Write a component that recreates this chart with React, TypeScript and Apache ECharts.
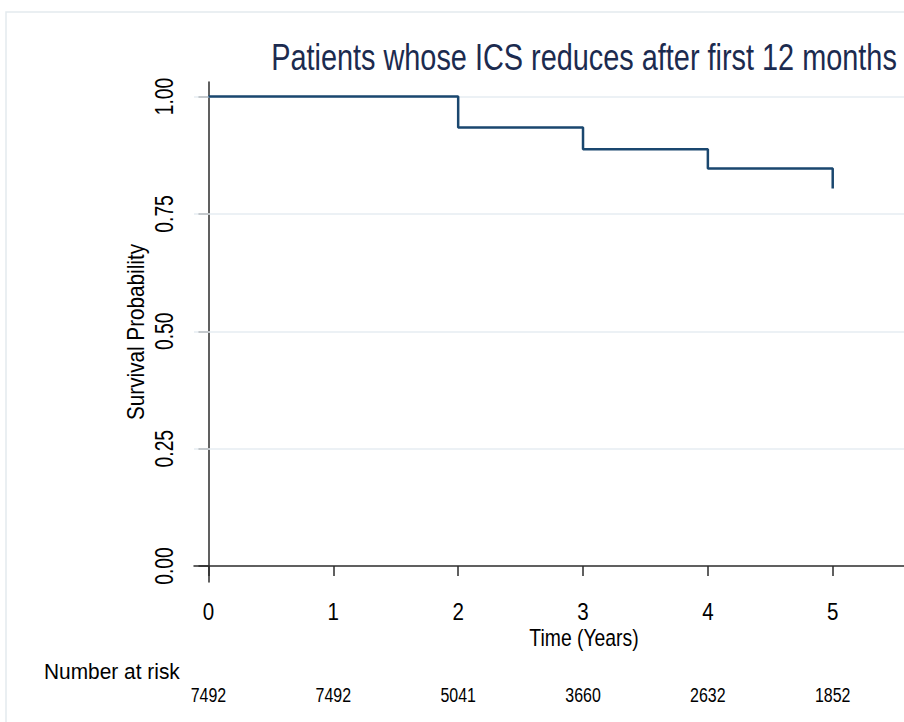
import React, { useEffect, useRef } from "react";
import * as echarts from "echarts";

// Kaplan–Meier estimate: event times (years) and survival probability after each step
const eventTimes = [0, 2, 3, 4, 5];
const survival = [1.0, 0.934, 0.888, 0.847, 0.804];

// Axis ticks
const yearTicks = [0, 1, 2, 3, 4, 5];
const probTicks = [0, 0.25, 0.5, 0.75, 1.0];
const gridLevels = [0.25, 0.5, 0.75, 1.0];

// Number at risk at each yearly tick
const atRisk = [7492, 7492, 5041, 3660, 2632, 1852];

const FONT = "'Liberation Sans', Arial, sans-serif";
const AXIS_COLOR = "#2b2b2b";
const X_MIN = -0.116;
const X_MAX = 5.571;
const Y_MIN = -0.034;
const Y_MAX = 1.031;

// Condensed text (Stata-style narrow face) drawn with a horizontal squeeze
function narrowText(
  x: number,
  y: number,
  text: string,
  size: number,
  squeeze: number,
  extra: Record<string, unknown> = {}
) {
  const { fill, ...rest } = extra as { fill?: string };
  return {
    type: "text",
    x,
    y,
    scaleX: squeeze,
    silent: true,
    ...rest,
    style: {
      text,
      font: `${size}px ${FONT}`,
      fill: fill || "#000000",
      align: "center",
      verticalAlign: "middle",
    },
  };
}

export default function App() {
  const ref = useRef<HTMLDivElement>(null);

  useEffect(() => {
    if (!ref.current) return;
    const chart = echarts.init(ref.current, undefined, { renderer: "svg" });

    chart.setOption({
      animation: false,
      backgroundColor: "#ffffff",
      graphic: [
        {
          type: "rect",
          shape: { x: 6, y: 12, width: 2000, height: 2000 },
          style: { fill: "none", stroke: "#e3eaee", lineWidth: 1.5 },
          silent: true,
          z: -10,
        },
        narrowText(584, 57, "Patients whose ICS reduces after first 12 months", 37.5, 0.77, {
          fill: "#1c2b4f",
        }),
        narrowText(584, 638, "Time (Years)", 24.5, 0.79),
        narrowText(136, 332, "Survival Probability", 23, 0.9, { rotation: Math.PI / 2 }),
        {
          type: "text",
          x: 44,
          y: 672,
          scaleX: 0.95,
          silent: true,
          style: {
            text: "Number at risk",
            font: `22px ${FONT}`,
            fill: "#000000",
            align: "left",
            verticalAlign: "middle",
          },
        },
      ],
      grid: { left: 194, right: 0, top: 82, bottom: 722 - 582, containLabel: false },
      xAxis: {
        type: "value",
        min: X_MIN,
        max: X_MAX,
        axisLine: { show: true, lineStyle: { color: AXIS_COLOR, width: 1.5 } },
        axisTick: {
          show: true,
          customValues: yearTicks,
          length: 10,
          lineStyle: { color: AXIS_COLOR, width: 1.5 },
        },
        axisLabel: { show: false },
        splitLine: { show: false },
      },
      yAxis: {
        type: "value",
        min: Y_MIN,
        max: Y_MAX,
        axisLine: { show: true, lineStyle: { color: AXIS_COLOR, width: 1.5 } },
        axisTick: {
          show: true,
          customValues: probTicks,
          length: 10,
          lineStyle: { color: AXIS_COLOR, width: 1.5 },
        },
        axisLabel: { show: false },
        splitLine: { show: false },
      },
      series: [
        {
          name: "gridlines",
          type: "line",
          data: [],
          z: 1,
          silent: true,
          markLine: {
            z: 1,
            silent: true,
            symbol: ["none", "none"],
            label: { show: false },
            lineStyle: { color: "#e6edf2", width: 1.5, type: "solid" },
            data: gridLevels.map((g) => ({ yAxis: g })),
          },
        },
        {
          name: "Survival",
          type: "line",
          step: "end",
          z: 3,
          showSymbol: false,
          data: eventTimes.map((t, i) => [t, survival[i]]),
          lineStyle: { color: "#1a476f", width: 2.5 },
          itemStyle: { color: "#1a476f" },
        },
        // year tick labels under the x axis
        {
          name: "yearLabels",
          type: "custom",
          silent: true,
          z: 5,
          encode: { x: 0, y: 1 },
          data: yearTicks.map((v) => [v, Y_MIN]),
          renderItem: (_p: unknown, api: any) => {
            const pt = api.coord([api.value(0), api.value(1)]);
            return narrowText(pt[0], pt[1] + 30, String(api.value(0)), 24.5, 0.84);
          },
        },
        // number-at-risk row
        {
          name: "atRisk",
          type: "custom",
          silent: true,
          z: 5,
          encode: { x: 0, y: 1 },
          data: yearTicks.map((v, i) => [v, Y_MIN, atRisk[i]]),
          renderItem: (_p: unknown, api: any) => {
            const pt = api.coord([api.value(0), api.value(1)]);
            return narrowText(pt[0], pt[1] + 113, String(api.value(2)), 21, 0.76);
          },
        },
        // probability tick labels left of the y axis
        {
          name: "probLabels",
          type: "custom",
          silent: true,
          z: 5,
          encode: { x: 0, y: 1 },
          data: probTicks.map((v) => [X_MIN, v]),
          renderItem: (_p: unknown, api: any) => {
            const pt = api.coord([api.value(0), api.value(1)]);
            return narrowText(pt[0] - 30, pt[1], Number(api.value(1)).toFixed(2), 26, 0.74, {
              rotation: Math.PI / 2,
            });
          },
        },
      ],
    });

    return () => chart.dispose();
  }, []);

  return (
    <div
      style={{
        position: "absolute",
        left: 0,
        top: 0,
        width: 904,
        height: 722,
        overflow: "hidden",
        background: "#ffffff",
      }}
    >
      <div ref={ref} style={{ width: 904, height: 722 }} />
    </div>
  );
}
